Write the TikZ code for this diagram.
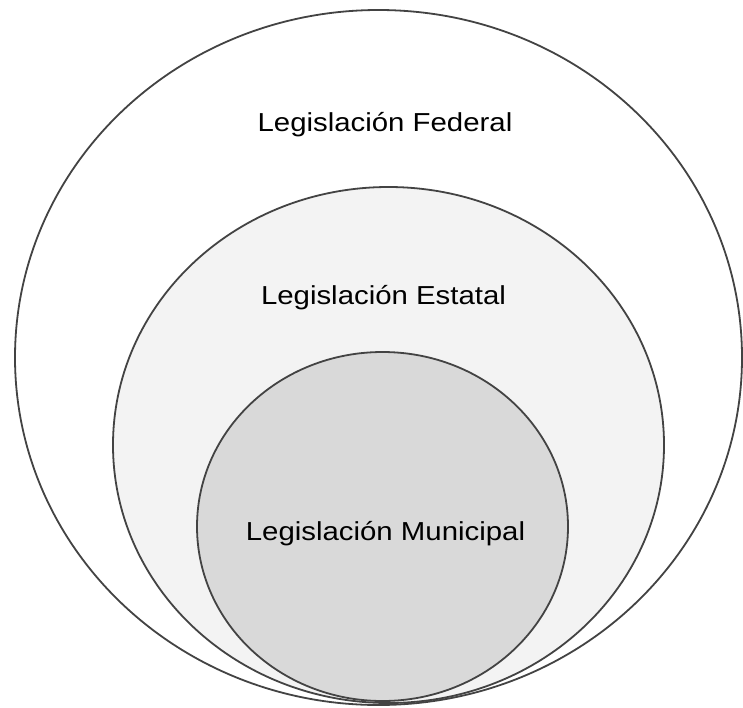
\documentclass[tikz,border=0pt]{standalone}
\usepackage{fontspec}
\setmainfont{Liberation Sans}
\usetikzlibrary{shapes.geometric}
\definecolor{edge}{HTML}{434343}
\definecolor{midfill}{HTML}{F3F3F3}
\definecolor{innfill}{HTML}{D9D9D9}
\begin{document}
\begin{tikzpicture}[x=1pt,y=-1pt,
  ring/.style={ellipse,draw=edge,line width=1.8pt,inner sep=0pt},
  lbl/.style={font=\fontsize{26}{30}\selectfont,text=black,inner sep=0pt,xscale=1.13}]
\useasboundingbox (0,0) rectangle (743,707);
\node[ring,fill=white,minimum width=727pt,minimum height=695pt] (fed) at (378.5,357.5) {};
\node[ring,fill=midfill,minimum width=551pt,minimum height=516pt] (est) at (388.5,445) {};
\node[ring,fill=innfill,minimum width=371pt,minimum height=349pt] (mun) at (382.5,526.5) {};
\node[lbl,anchor=base] (tfed) at (385,131) {Legislación Federal};
\node[lbl,anchor=base] (test) at (383.5,304) {Legislación Estatal};
\node[lbl,anchor=base] (tmun) at (385.5,540) {Legislación Municipal};
\end{tikzpicture}
\end{document}
